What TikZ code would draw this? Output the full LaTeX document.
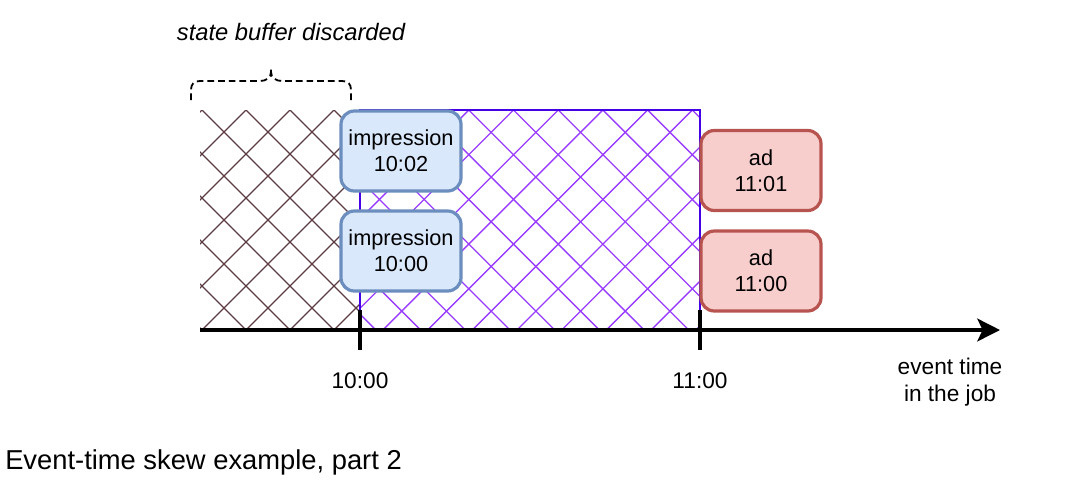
\documentclass[tikz,border=0pt]{standalone}
\usepackage{fontspec}
\setmainfont{Liberation Sans}
\usetikzlibrary{arrows.meta}
\tikzset{>=latex}
\definecolor{impfill}{HTML}{DAE8FC}
\definecolor{impline}{HTML}{6C8EBF}
\definecolor{adfill}{HTML}{F8CECC}
\definecolor{adline}{HTML}{B85450}
\definecolor{oldhatch}{RGB}{92,60,66}
\definecolor{winhatch}{RGB}{153,60,255}
\definecolor{winline}{RGB}{68,0,230}
\tikzstyle{event}=[draw,line width=2.4pt,rounded corners=10pt,minimum width=90pt,minimum height=60pt,
                   inner sep=0pt,align=center,font=\fontsize{16.3}{19.5}\selectfont]
\tikzstyle{impression}=[event,fill=impfill,draw=impline]
\tikzstyle{adbox}=[event,fill=adfill,draw=adline]
\tikzstyle{hatch}=[line width=1pt]
\tikzstyle{brace}=[line width=1.35pt,dash pattern=on 5pt off 3pt]
\tikzstyle{tickmark}=[line width=3pt]
\tikzstyle{ticklabel}=[font=\fontsize{17}{20.5}\selectfont]

\begin{document}
\begin{tikzpicture}[x=0.75pt,y=-0.75pt]
  \useasboundingbox (0,0) rectangle (1080,490);

    \begin{scope} % discarded state
      \clip (200,110) rectangle (360,330);
      \foreach \n in {-6,...,8}{
        \draw[hatch,oldhatch] (246+44*\n,110) --++ (220,220);
        \draw[hatch,oldhatch] (246+44*\n,110) --++ (-220,220);
      }
    \end{scope}

    \begin{scope} % current window
      \clip (360,110) rectangle (700,330);
      \foreach \n in {-6,...,13}{
        \draw[hatch,winhatch] (379.4+44.7*\n,110) --++ (220,220);
        \draw[hatch,winhatch] (379.4+44.7*\n,110) --++ (-220,220);
      }
    \end{scope}
    \draw[winline,line width=1.5pt] (360,330) -- (360,110) -- (700,110) -- (700,330);

    \draw[brace] % curly brace
      (191,100) -- (191,90) .. controls (191,84) and (194,81) .. (200,81) --
      (260,81) .. controls (266,81) and (271,78) .. (271,72) -- (271,66);
    \draw[brace]
      (351,100) -- (351,90) .. controls (351,84) and (348,81) .. (342,81) --
      (282,81) .. controls (276,81) and (271,78) .. (271,72);
    \node (discarded) at (291,32) {\fontsize{17.8}{21}\selectfont\itshape state buffer discarded};

    \coordinate (origin) at (200,330);
    \coordinate (axisend) at (1000,330);
    \draw[line width=3pt,-{Stealth[length=17pt,width=17pt,inset=4pt]}] (origin) -- (axisend);
    \foreach \x/\lab in {360/10:00,700/11:00}{
      \draw[tickmark] (\x,310) -- (\x,350);
      \node[ticklabel] (lab\x) at (\x,381) {\lab};
    }
    \node[ticklabel,align=center] (axislabel) at (950,382) {event time\\in the job};

    \node[impression] (imp1002) at (401,151) {impression\\10:02};
    \node[impression] (imp1000) at (401,251) {impression\\10:00};
    \node[adbox] (ad1101) at (761,170.5) {ad\\11:01};
    \node[adbox] (ad1100) at (761,271) {ad\\11:00};

    \node[anchor=west,inner sep=0pt] (caption) at (5,462) {\fontsize{20.5}{24}\selectfont Event-time skew example, part 2};

\end{tikzpicture}
\end{document}
